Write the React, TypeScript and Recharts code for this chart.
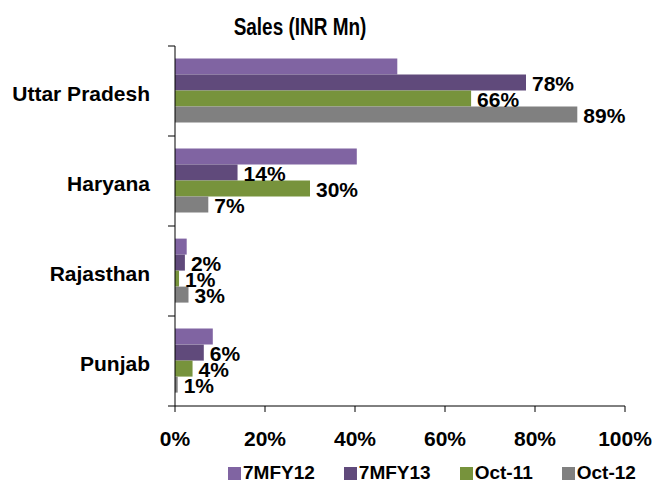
import { Bar, BarChart, LabelList, Legend, XAxis, YAxis } from "recharts";

const states = ["Uttar Pradesh", "Haryana", "Rajasthan", "Punjab"];
const fy12 = [49.4, 40.4, 2.6, 8.4];
const fy13 = [78, 13.9, 2.2, 6.4];
const oct11 = [65.8, 30, 0.9, 3.9];
const oct12 = [89.4, 7.4, 3.0, 0.6];
const xTicks = [0, 20, 40, 60, 80, 100];

const series = [
  { key: "fy12", name: "7MFY12", color: "#8064a2", labels: false },
  { key: "fy13", name: "7MFY13", color: "#604a7b", labels: true },
  { key: "oct11", name: "Oct-11", color: "#77933c", labels: true },
  { key: "oct12", name: "Oct-12", color: "#808080", labels: true },
];

const data = states.map((state, i) => ({
  state,
  fy12: fy12[i],
  fy13: fy13[i],
  oct11: oct11[i],
  oct12: oct12[i],
}));

const FONT = '"Liberation Sans", Arial, sans-serif';
const TICK_MARGIN = 25;

type TickProps = {
  x?: number;
  y?: number;
  index?: number;
  visibleTicksCount?: number;
  payload?: { value: string; offset?: number };
};

// category label plus the small tick marks between categories
function StateTick({ x = 0, y = 0, index = 0, visibleTicksCount = 0, payload }: TickProps) {
  const half = payload?.offset || 45;
  const axisX = x + TICK_MARGIN;
  const isLast = index === visibleTicksCount - 1;
  return (
    <g>
      <line x1={axisX - 7} x2={axisX} y1={y - half} y2={y - half} stroke="#000" />
      {isLast && (
        <line x1={axisX - 7} x2={axisX} y1={y + half} y2={y + half} stroke="#000" />
      )}
      <text
        x={x}
        y={y + 3}
        dy="0.355em"
        textAnchor="end"
        fontFamily={FONT}
        fontWeight="bold"
        fontSize={21}
        fill="#000"
      >
        {payload?.value}
      </text>
    </g>
  );
}

function SalesLegend() {
  return (
    <div style={{ display: "flex", gap: 29, fontFamily: FONT, lineHeight: "18px" }}>
      {series.map((s) => (
        <div key={s.key} style={{ display: "flex", alignItems: "center" }}>
          <span
            style={{ width: 13, height: 13, background: s.color, marginRight: 2 }}
          />
          <span style={{ fontSize: 19, fontWeight: "bold", color: "#000" }}>
            {s.name}
          </span>
        </div>
      ))}
    </div>
  );
}

export default function App() {
  return (
    <div
      style={{
        position: "absolute",
        left: 0,
        top: 0,
        width: 655,
        height: 483,
        background: "#fff",
        overflow: "hidden",
      }}
    >
      <div
        style={{
          position: "absolute",
          top: 12,
          left: 0,
          width: 600,
          textAlign: "center",
          fontFamily: FONT,
          fontWeight: "bold",
          fontSize: 24,
          lineHeight: "30px",
        }}
      >
        <span style={{ display: "inline-block", transform: "scaleX(0.79)" }}>
          Sales (INR Mn)
        </span>
      </div>
      <BarChart
        width={655}
        height={483}
        data={data}
        layout="vertical"
        margin={{ top: 46, right: 30, left: 0, bottom: 47 }}
        barCategoryGap="14%"
        barGap={0}
      >
        <XAxis
          type="number"
          domain={[0, 100]}
          ticks={xTicks}
          tickFormatter={(v: number) => `${v}%`}
          height={30}
          stroke="#000"
          tickSize={6}
          tickMargin={19}
          tick={{ fill: "#000", fontSize: 21, fontWeight: "bold", fontFamily: FONT }}
        />
        <YAxis
          type="category"
          dataKey="state"
          width={175}
          stroke="#000"
          tickLine={false}
          tickSize={0}
          tickMargin={TICK_MARGIN}
          tick={<StateTick />}
        />
        <Legend
          layout="horizontal"
          verticalAlign="middle"
          align="center"
          content={<SalesLegend />}
          wrapperStyle={{ top: 464, left: 228, width: 420, height: 18 }}
        />
        {series.map((s) => (
          <Bar
            key={s.key}
            dataKey={s.key}
            name={s.name}
            fill={s.color}
            isAnimationActive={false}
          >
            {s.labels && (
              <LabelList
                dataKey={s.key}
                position="right"
                offset={6}
                dy={1}
                formatter={(v: number) => `${Math.round(v)}%`}
                fill="#000"
                fontSize={21}
                fontWeight="bold"
                fontFamily={FONT}
              />
            )}
          </Bar>
        ))}
      </BarChart>
    </div>
  );
}
